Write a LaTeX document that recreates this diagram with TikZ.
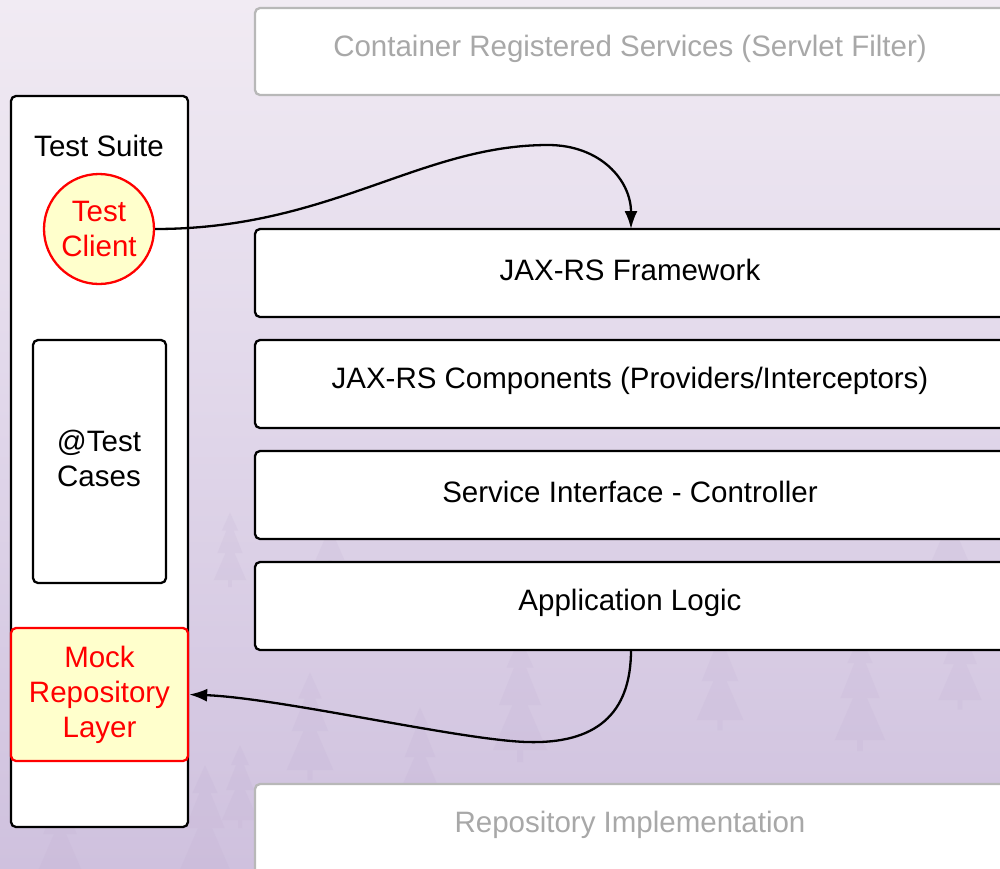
\documentclass[tikz,border=0pt]{standalone}
\usepackage{fontspec}
\setmainfont{Liberation Sans}
\usetikzlibrary{arrows.meta}
\definecolor{bgtop}{RGB}{241,235,243}
\definecolor{bgmid}{RGB}{228,219,236}
\definecolor{bgbot}{RGB}{207,193,222}
\definecolor{treecol}{RGB}{188,168,206}
\definecolor{mockred}{RGB}{255,0,0}
\definecolor{mockfill}{RGB}{255,255,204}
\definecolor{faintline}{RGB}{184,184,184}
\definecolor{fainttext}{RGB}{168,168,168}
\tikzset{
  layer/.style={draw=black, line width=2.3pt, fill=white, rounded corners=5pt},
  fadedlayer/.style={draw=faintline, line width=2.3pt, fill=white, rounded corners=5pt},
  label/.style={font=\fontsize{29.5}{35}\selectfont, align=center, text=black},
  fadedlabel/.style={font=\fontsize{29.5}{35}\selectfont, align=center, text=fainttext},
  redlabel/.style={font=\fontsize{29.5}{35}\selectfont, align=center, text=mockred},
  link/.style={draw=black, line width=2.3pt, -{Latex[length=18pt,width=13pt]}},
  fir/.pic={\fill[treecol, opacity=0.14] (0,-75) -- (-9,-55) -- (-4,-55) -- (-14,-30) -- (-5,-30)
            -- (-18,0) -- (-2,0) -- (-2,8) -- (2,8) -- (2,0) -- (18,0) -- (5,-30) -- (14,-30)
            -- (4,-55) -- (9,-55) -- cycle;}
}
\begin{document}
\begin{tikzpicture}[x=1pt,y=-1pt]
  \useasboundingbox (0,0) rectangle (1000,868);
  % background wash
  \shade[top color=bgtop, bottom color=bgmid] (0,0) rectangle (1000,320);
  \shade[top color=bgmid, bottom color=bgbot] (0,320) rectangle (1000,868);
  % faint forest silhouettes
  \foreach \x/\y/\s in {60/870/1.2, 205/870/1.4, 240/820/1.0, 310/770/1.3, 420/790/1.1,
                        520/750/1.5, 720/720/1.3, 860/740/1.4, 960/700/1.2, 230/580/0.9,
                        330/560/0.8, 950/560/1.0}
    \pic[yscale=\s, xscale=\s] at (\x,\y) {fir};

  % service layers on the right
  \draw[fadedlayer] (255,8) rectangle (1010,95);
  \node[fadedlabel] (container) at (630,49) {Container Registered Services (Servlet Filter)};
  \draw[layer] (255,229) rectangle (1010,317);
  \coordinate (jaxtop) at (631,229);
  \node[label] (jax) at (630,270) {JAX-RS Framework};
  \draw[layer] (255,340) rectangle (1010,428);
  \node[label] (comp) at (630,381) {JAX-RS Components (Providers/Interceptors)};
  \draw[layer] (255,451) rectangle (1010,539);
  \node[label] (svc) at (630,492) {Service Interface - Controller};
  \draw[layer] (255,562) rectangle (1010,650);
  \coordinate (appbot) at (631,650);
  \node[label] (app) at (630,603) {Application Logic};
  \draw[fadedlayer] (255,784) rectangle (1010,880);
  \node[fadedlabel] (repo) at (630,825) {Repository Implementation};

  % test suite column
  \draw[layer] (11,96) rectangle (188,827);
  \node[label] (suite) at (99,146) {Test Suite};
  \node[circle, draw=mockred, line width=2.3pt, fill=mockfill, minimum size=110pt, inner sep=0pt,
        redlabel] (client) at (99,229) {Test\\Client};
  \draw[layer] (33,340) rectangle (166,583);
  \node[label] (cases) at (99,458) {@Test\\Cases};
  \node[draw=mockred, line width=2.3pt, fill=mockfill, rounded corners=5pt,
        minimum width=177pt, minimum height=133pt, inner sep=0pt, redlabel] (mock) at (99.5,694.5)
        {Mock\\Repository\\Layer};

  % calls
  \draw[link] (client.east) .. controls (330,229) and (420,145) .. (548,145)
              .. controls (600,145) and (631,180) .. (jaxtop);
  \draw[link] (appbot) .. controls (631,715) and (595,744) .. (527,742)
              .. controls (460,740) and (280,698) .. (mock.east);
\end{tikzpicture}
\end{document}
